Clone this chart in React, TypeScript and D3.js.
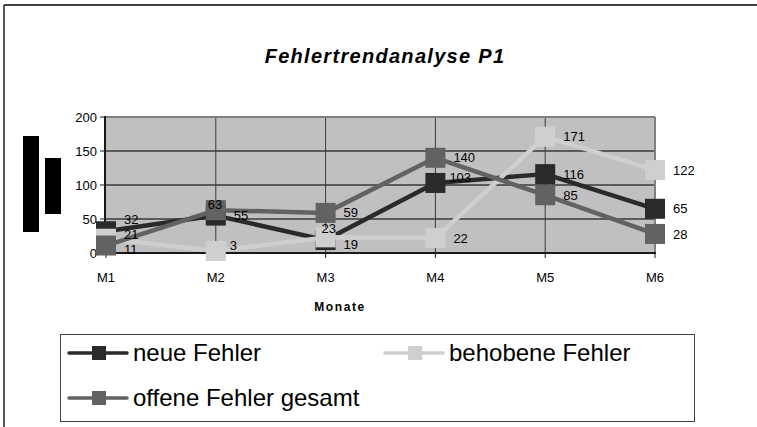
import React, { useEffect, useRef } from "react";
import * as d3 from "d3";

const months = ["M1", "M2", "M3", "M4", "M5", "M6"];
const yTicks = [0, 50, 100, 150, 200];
const seriesNames = ["neue Fehler", "behobene Fehler", "offene Fehler gesamt"];
const neueFehler = [32, 55, 19, 103, 116, 65];
const behobeneFehler = [21, 3, 23, 22, 171, 122];
const offeneFehler = [11, 63, 59, 140, 85, 28];

const colors = ["#2a2a2a", "#cfcfcf", "#626262"];
// label nudges (Excel moved a few labels to avoid overlap)
const labelNudge: Record<string, [number, number]> = {
  "0-0": [0, -12],
  "0-2": [0, 4],
  "2-1": [-26, -6],
  "1-2": [-22, -9],
  "0-3": [-4, -6],
  "2-0": [0, 4],
  "1-0": [0, -4],
  "1-1": [-4, -6],
};

const W = 757;
const H = 427;
const FONT = "'Liberation Sans', Arial, sans-serif";

const App = () => {
  const svgRef = useRef<SVGSVGElement>(null);

  useEffect(() => {
    const svg = d3.select(svgRef.current);
    svg.selectAll("*").remove();

    const x = d3.scalePoint().domain(months).range([106, 655]);
    const y = d3.scaleLinear().domain([0, 200]).range([253, 117]);
    const series = [neueFehler, behobeneFehler, offeneFehler];

    // outer frame
    svg.append("line").attr("x1", 4).attr("x2", W).attr("y1", 5).attr("y2", 5)
      .attr("stroke", "#404040").attr("stroke-width", 2);
    svg.append("line").attr("x1", 4).attr("x2", 4).attr("y1", 5).attr("y2", H)
      .attr("stroke", "#202020").attr("stroke-width", 1.5);

    svg.append("text")
      .attr("x", 385).attr("y", 63)
      .attr("text-anchor", "middle")
      .style("font-family", FONT).style("font-size", "20px")
      .style("font-weight", "bold").style("font-style", "italic")
      .style("letter-spacing", "1.3px")
      .text("Fehlertrendanalyse P1");

    // black bars left of the axis
    svg.append("rect").attr("x", 23).attr("y", 136).attr("width", 16).attr("height", 96).attr("fill", "#000");
    svg.append("rect").attr("x", 45).attr("y", 158).attr("width", 16).attr("height", 56).attr("fill", "#000");

    // plot area
    svg.append("rect")
      .attr("x", 106).attr("y", y(200))
      .attr("width", 655 - 106).attr("height", y(0) - y(200))
      .attr("fill", "#c0c0c0");

    const grid = svg.append("g");
    yTicks.filter((t) => t > 0 && t < 200).forEach((t) => {
      grid.append("line").attr("x1", 106).attr("x2", 655).attr("y1", y(t)).attr("y2", y(t))
        .attr("stroke", "#3a3a3a").attr("stroke-width", 1.5);
    });
    months.slice(1, -1).forEach((m) => {
      grid.append("line").attr("x1", x(m)!).attr("x2", x(m)!).attr("y1", y(200)).attr("y2", y(0))
        .attr("stroke", "#3a3a3a").attr("stroke-width", 1);
    });
    svg.append("line").attr("x1", 105).attr("x2", 655).attr("y1", y(200)).attr("y2", y(200))
      .attr("stroke", "#808080").attr("stroke-width", 2);
    svg.append("line").attr("x1", 655).attr("x2", 655).attr("y1", y(200)).attr("y2", y(0))
      .attr("stroke", "#808080").attr("stroke-width", 2);

    // axes
    svg.append("line").attr("x1", 105).attr("x2", 105).attr("y1", y(200) - 1).attr("y2", y(0))
      .attr("stroke", "#1a1a1a").attr("stroke-width", 2);
    svg.append("line").attr("x1", 105).attr("x2", 656).attr("y1", y(0)).attr("y2", y(0))
      .attr("stroke", "#1a1a1a").attr("stroke-width", 2);

    yTicks.forEach((t) => {
      svg.append("line").attr("x1", 100).attr("x2", 105).attr("y1", y(t)).attr("y2", y(t))
        .attr("stroke", "#1a1a1a").attr("stroke-width", 1);
      svg.append("text")
        .attr("x", 97).attr("y", y(t)).attr("dy", "0.35em")
        .attr("text-anchor", "end")
        .style("font-family", FONT).style("font-size", "13px")
        .text(t);
    });
    months.forEach((m) => {
      svg.append("line").attr("x1", x(m)!).attr("x2", x(m)!).attr("y1", y(0)).attr("y2", y(0) + 5)
        .attr("stroke", "#1a1a1a").attr("stroke-width", 1);
      svg.append("text")
        .attr("x", x(m)!).attr("y", 277).attr("dy", "0.35em")
        .attr("text-anchor", "middle")
        .style("font-family", FONT).style("font-size", "13px")
        .text(m);
    });

    svg.append("text")
      .attr("x", 340).attr("y", 307).attr("dy", "0.35em")
      .attr("text-anchor", "middle")
      .style("font-family", FONT).style("font-size", "12px")
      .style("font-weight", "bold").style("letter-spacing", "1.6px")
      .text("Monate");

    // series
    const line = d3.line<number>()
      .x((d, i) => x(months[i])!)
      .y((d) => y(d));

    series.forEach((vals, s) => {
      const g = svg.append("g");
      g.append("path")
        .attr("d", line(vals))
        .attr("fill", "none")
        .attr("stroke", colors[s])
        .attr("stroke-width", 4.5)
        .attr("stroke-linejoin", "round");
      g.selectAll("rect")
        .data(vals)
        .enter()
        .append("rect")
        .attr("x", (d, i) => x(months[i])! - 10)
        .attr("y", (d) => y(d) - 10)
        .attr("width", 20)
        .attr("height", 20)
        .attr("fill", colors[s]);
    });

    series.forEach((vals, s) => {
      vals.forEach((v, i) => {
        const n = labelNudge[`${s}-${i}`] || [0, 0];
        svg.append("text")
          .attr("x", x(months[i])! + 18 + n[0])
          .attr("y", y(v) + n[1])
          .attr("dy", "0.35em")
          .style("font-family", FONT).style("font-size", "13px")
          .text(v);
      });
    });

    // legend
    svg.append("rect")
      .attr("x", 60.5).attr("y", 334.5).attr("width", 634).attr("height", 87)
      .attr("fill", "none").attr("stroke", "#404040").attr("stroke-width", 1);
    const legendPos = [[69, 353], [385, 353], [69, 398]];
    seriesNames.forEach((name, s) => {
      const [lx, ly] = legendPos[s];
      const g = svg.append("g").attr("transform", `translate(${lx},${ly})`);
      g.append("line").attr("x1", 0).attr("x2", 58).attr("y1", 0).attr("y2", 0)
        .attr("stroke", colors[s]).attr("stroke-width", 3.5).attr("stroke-linecap", "round");
      g.append("rect").attr("x", 23).attr("y", -7).attr("width", 14).attr("height", 14)
        .attr("fill", colors[s]);
      g.append("text")
        .attr("x", 64).attr("y", 0).attr("dy", "0.35em")
        .style("font-family", FONT).style("font-size", "24px")
        .text(name);
    });
  }, []);

  return (
    <svg
      ref={svgRef}
      width={W}
      height={H}
      style={{ position: "absolute", left: 0, top: 0, background: "#fff" }}
    />
  );
};

export default App;
